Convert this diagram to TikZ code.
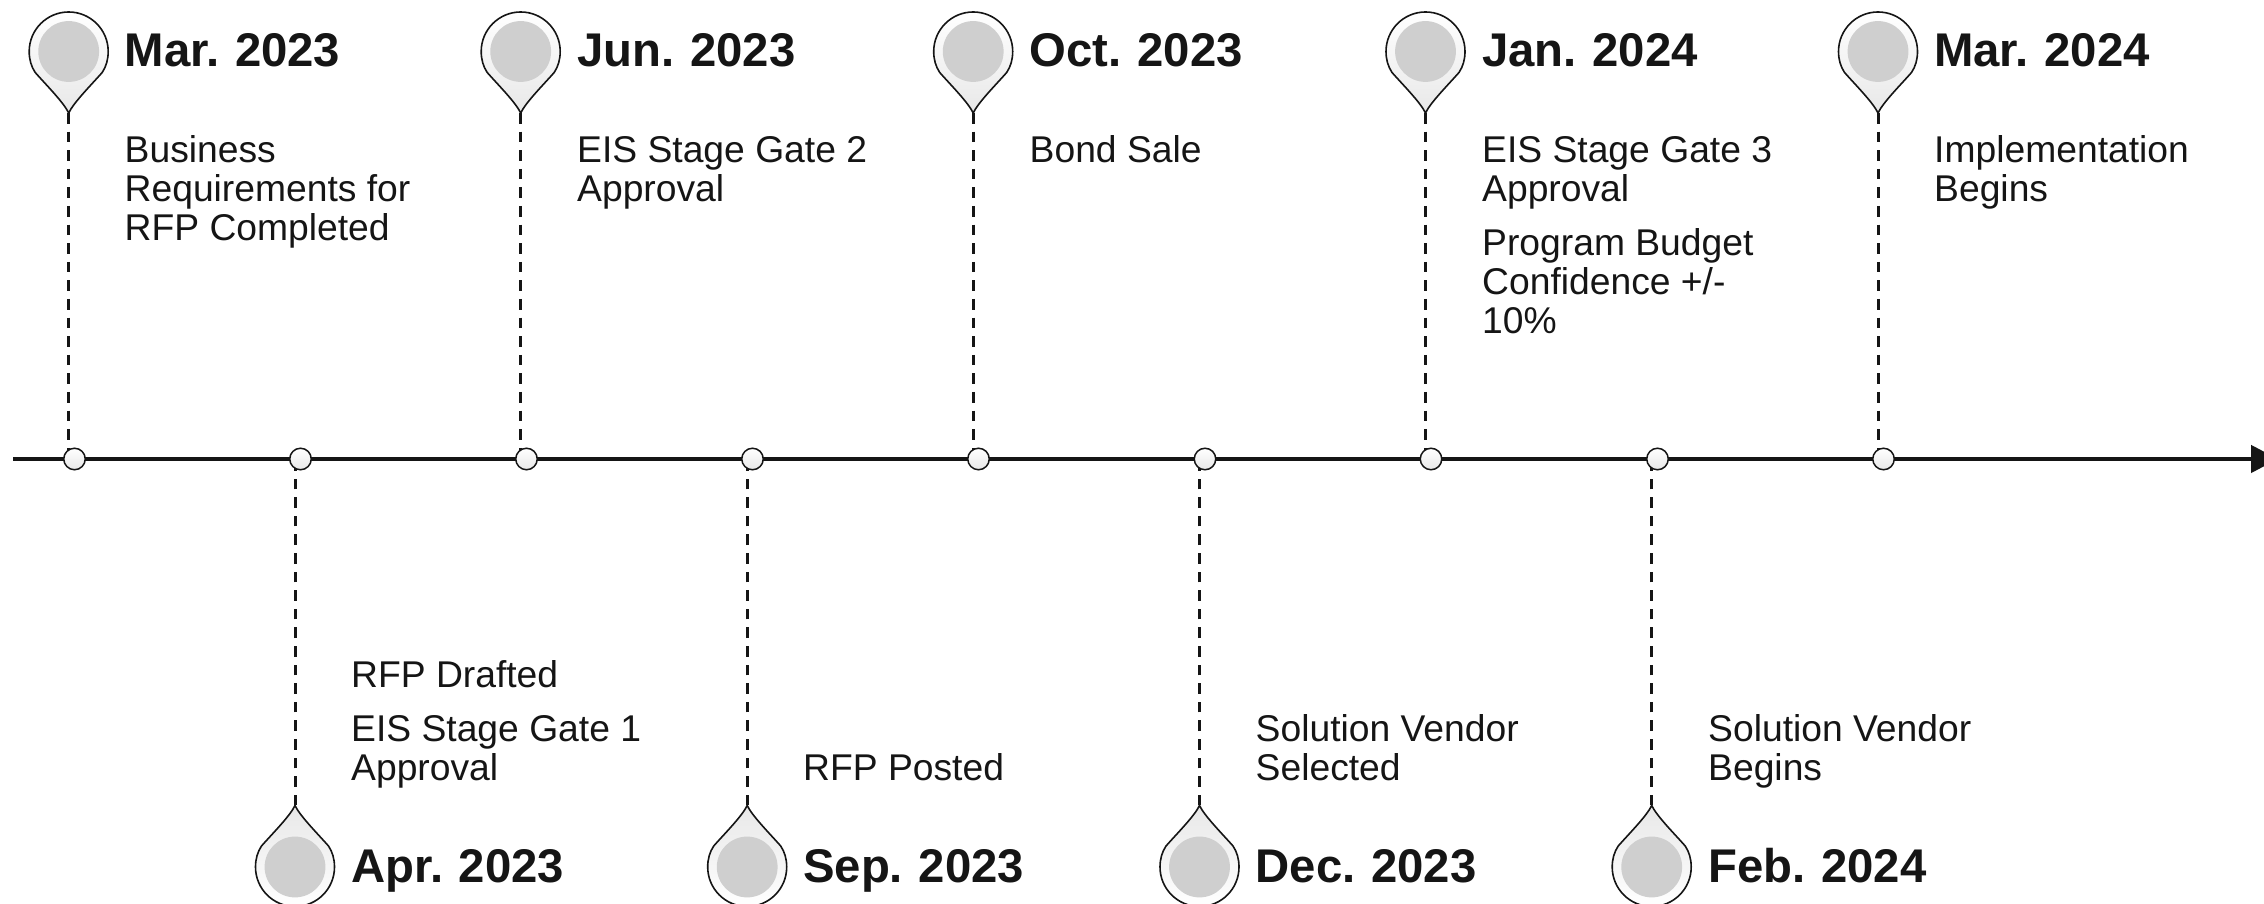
\documentclass[tikz,border=0pt]{standalone}
\usepackage{fontspec}
\setmainfont{Liberation Sans}
\usetikzlibrary{arrows.meta}
\definecolor{ink}{HTML}{151515}
\definecolor{disc}{HTML}{CFCFCF}
\definecolor{pinlow}{HTML}{E8E8E8}
\newcommand{\lines}[1]{\begin{tabular}[t]{@{}l@{}}#1\end{tabular}}
\newcommand{\datefont}{\fontsize{47.3}{50}\bfseries\selectfont\spaceskip 11.4pt\relax}
\tikzset{
  x=1pt,y=1pt,
  axisline/.style={draw=ink,line width=4.5pt,-{Triangle[length=27pt,width=27pt]}},
  dropline/.style={draw=ink,line width=3pt,dash pattern=on 10.6pt off 8pt},
  tick/.style={circle,draw=ink,line width=1.5pt,minimum size=21.5pt,inner sep=0pt,top color=white,middle color=white,bottom color=pinlow},
  datelabel/.style={anchor=base west,inner sep=0pt,text=ink,font=\datefont},
  bodytext/.style={anchor=base west,inner sep=0pt,text=ink,font=\fontsize{37.25}{39}\selectfont},
  pinbody/.style={draw=ink,line width=1.6pt},
  pin/.pic={
    \path[pinbody,pic actions] (0,-61.5)
      .. controls (-5,-51) and (-22,-34) .. (-33.5,-21)
      .. controls (-37.5,-15) and (-39.5,-8) .. (-39.5,0)
      arc[start angle=180,end angle=0,radius=39.5]
      .. controls (39.5,-8) and (37.5,-15) .. (33.5,-21)
      .. controls (22,-34) and (5,-51) .. (0,-61.5) -- cycle;
    \fill[disc] (0,0) circle[radius=30.4];
    \coordinate (-tip) at (0,-61.5);
  },
  pinup/.style={top color=white,middle color=white,bottom color=pinlow},
  pindown/.style={yscale=-1,top color=pinlow,middle color=white,bottom color=white},
}
\begin{document}
\begin{tikzpicture}
\useasboundingbox (0,0) rectangle (2264,904);
\clip (0,0) rectangle (2264,904);
% axis points
\coordinate (start) at (13,445);
\coordinate (end) at (2278,445);
\foreach \n/\x in {a/74.5,b/300.5,c/526.5,d/752.5,e/978.5,f/1205,g/1431,h/1657.5,i/1883.5}
  \coordinate (t\n) at (\x,445);
% pins
\foreach \n/\x in {a/68.7,c/520.7,e/973.2,g/1425.5,i/1878}{
  \pic (p\n) [pinup] at (\x,852.5) {pin};
  \draw[dropline] (p\n-tip) -- (p\n-tip |- start);
}
\foreach \n/\x in {b/295,d/747.2,f/1199.5,h/1651.7}{
  \pic (p\n) [pindown] at (\x,37) {pin};
  \draw[dropline] (p\n-tip) -- (p\n-tip |- start);
}
\draw[axisline] (start) -- (end);
\foreach \n in {a,b,c,d,e,f,g,h,i}
  \node[tick] (m\n) at (t\n) {};
% top labels
\node[datelabel] (da) at (124.5,837) {Mar. 2023};
\node[datelabel] (dc) at (577,837) {Jun. 2023};
\node[datelabel] (de) at (1029.5,837) {Oct. 2023};
\node[datelabel] (dg) at (1482,837) {Jan. 2024};
\node[datelabel] (di) at (1934,837) {Mar. 2024};
\node[bodytext] (ta) at (124.5,741.2) {\lines{Business\\Requirements for\\RFP Completed}};
\node[bodytext] (tc) at (577,741.2) {\lines{EIS Stage Gate 2\\Approval}};
\node[bodytext] (te) at (1029.5,741.2) {Bond Sale};
\node[bodytext] (tg) at (1482,741.2) {\lines{EIS Stage Gate 3\\Approval}};
\node[bodytext] (tg2) at (1482,648.7) {\lines{Program Budget\\Confidence +/-\\10\%}};
\node[bodytext] (ti) at (1934,741.2) {\lines{Implementation\\Begins}};
% bottom labels
\node[datelabel] (db) at (351,21) {Apr. 2023};
\node[datelabel] (dd) at (803,21) {Sep. 2023};
\node[datelabel] (df) at (1255.5,21) {Dec. 2023};
\node[datelabel] (dh) at (1708,21) {Feb. 2024};
\node[bodytext] (tb1) at (351,216.7) {RFP Drafted};
\node[bodytext] (tb) at (351,162.7) {\lines{EIS Stage Gate 1\\Approval}};
\node[bodytext] (td) at (803,123.7) {RFP Posted};
\node[bodytext] (tf) at (1255.5,162.7) {\lines{Solution Vendor\\Selected}};
\node[bodytext] (th) at (1708,162.7) {\lines{Solution Vendor\\Begins}};
\end{tikzpicture}
\end{document}
